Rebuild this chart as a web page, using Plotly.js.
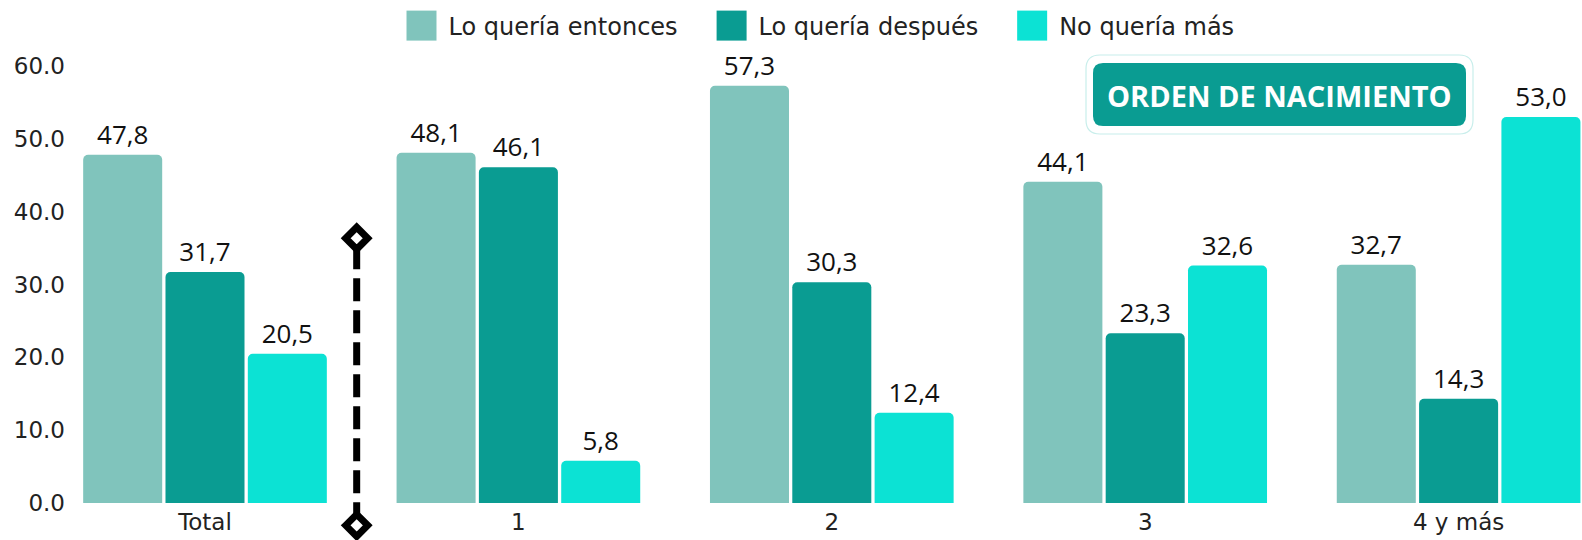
<!DOCTYPE html>
<html>
<head>
<meta charset="utf-8">
<script src="https://cdn.plot.ly/plotly-3.0.1.min.js"></script>
<style>
  html, body { margin: 0; padding: 0; background: #ffffff; }
  #chart { width: 1582px; height: 540px; }
</style>
</head>
<body>
<div id="chart"></div>
<script>
// ---- Data ----
const categories = ["Total", "1", "2", "3", "4 y más"];
const seriesNames = ["Lo quería entonces", "Lo quería después", "No quería más"];
const queriaEntonces = [47.8, 48.1, 57.3, 44.1, 32.7];
const queriaDespues = [31.7, 46.1, 30.3, 23.3, 14.3];
const noQueriaMas = [20.5, 5.8, 12.4, 32.6, 53.0];
const yTickVals = [0, 10, 20, 30, 40, 50, 60];
const badgeText = "ORDEN DE NACIMIENTO";

// ---- Style ----
const colors = ["#80C4BC", "#0A9C92", "#0CE2D4"];
const W = 1582, H = 540;
const M = { l: 66, r: 0, t: 66, b: 37 };
const plotW = W - M.l - M.r, plotH = H - M.t - M.b;
const catStep = 313.4;        // pixels per category
const yMax = 60;
const sepX = 0.484;           // separator position between "Total" and "1"
const sepTop = 36.35, sepBottom = -3.07;
const tickFont = 'DejaVu Sans';

const fmt = v => v.toFixed(1).replace('.', ',');
const valueSets = [queriaEntonces, queriaDespues, noQueriaMas];

const traces = valueSets.map((vals, i) => ({
  type: 'bar',
  name: seriesNames[i],
  x: [0, 1, 2, 3, 4],
  y: vals,
  text: vals.map(fmt),
  textposition: 'outside',
  cliponaxis: false,
  textfont: { family: 'Open Sans', size: 26, color: '#111111' },
  marker: { color: colors[i], cornerradius: 5 },
  hoverinfo: 'skip'
}));

// pixel -> paper helpers for decorations
const px = x => (x - M.l) / plotW;
const py = y => (H - M.b - y) / plotH;
function roundRect(x0, y0, x1, y1, r) {
  const p = (x, y) => px(x) + ',' + py(y);
  return 'M' + p(x0 + r, y0) + ' L' + p(x1 - r, y0) + ' Q' + p(x1, y0) + ' ' + p(x1, y0 + r) +
    ' L' + p(x1, y1 - r) + ' Q' + p(x1, y1) + ' ' + p(x1 - r, y1) +
    ' L' + p(x0 + r, y1) + ' Q' + p(x0, y1) + ' ' + p(x0, y1 - r) +
    ' L' + p(x0, y0 + r) + ' Q' + p(x0, y0) + ' ' + p(x0 + r, y0) + ' Z';
}
function diamond(xc, yVal, half) {
  const dx = half / catStep, dy = half / plotH, yc = yVal / yMax;
  return 'M' + (xc - dx) + ',' + yc + ' L' + xc + ',' + (yc + dy) +
    ' L' + (xc + dx) + ',' + yc + ' L' + xc + ',' + (yc - dy) + ' Z';
}

const x0 = -(205 - M.l) / catStep;

const layout = {
  width: W, height: H,
  margin: M,
  paper_bgcolor: '#ffffff',
  plot_bgcolor: '#ffffff',
  barmode: 'group',
  bargap: 0.212,
  bargroupgap: 0.04,
  font: { family: tickFont, color: '#222222' },
  showlegend: true,
  legend: {
    orientation: 'h',
    xref: 'paper', x: 0.5, xanchor: 'center',
    yref: 'container', y: 1 - 26 / H, yanchor: 'middle',
    font: { family: tickFont, size: 24, color: '#222222' },
    traceorder: 'normal'
  },
  xaxis: {
    range: [x0, x0 + plotW / catStep],
    tickmode: 'array',
    tickvals: [0, 1, 2, 3, 4],
    ticktext: categories,
    tickfont: { family: tickFont, size: 23, color: '#222222' },
    ticklabelstandoff: 3,
    showgrid: false, zeroline: false, showline: false, ticks: ''
  },
  yaxis: {
    range: [0, yMax],
    tickmode: 'array',
    tickvals: yTickVals,
    tickformat: '.1f',
    tickfont: { family: tickFont, size: 23, color: '#222222' },
    showgrid: false, zeroline: false, showline: false, ticks: ''
  },
  shapes: [
    {
      type: 'line', xref: 'x', yref: 'paper',
      x0: sepX, x1: sepX, y0: sepBottom / yMax, y1: sepTop / yMax,
      line: { color: '#000000', width: 7, dash: '23px,9px' },
      layer: 'below'
    },
    {
      type: 'path', xref: 'x', yref: 'paper',
      path: diamond(sepX, sepTop, 11),
      fillcolor: '#ffffff', line: { color: '#000000', width: 7 }, layer: 'above'
    },
    {
      type: 'path', xref: 'x', yref: 'paper',
      path: diamond(sepX, sepBottom, 11),
      fillcolor: '#ffffff', line: { color: '#000000', width: 7 }, layer: 'above'
    },
    {
      type: 'path', xref: 'paper', yref: 'paper',
      path: roundRect(1086, 55, 1473, 134, 14),
      fillcolor: '#ffffff', line: { color: '#C8EEEB', width: 1.2 }, layer: 'above'
    },
    {
      type: 'path', xref: 'paper', yref: 'paper',
      path: roundRect(1093, 63, 1466, 126, 10),
      fillcolor: '#0A9C92', line: { width: 0 }, layer: 'above'
    }
  ],
  annotations: [
    {
      xref: 'paper', yref: 'paper',
      x: px((1093 + 1466) / 2), y: py(95),
      xanchor: 'center', yanchor: 'middle',
      text: '<b>' + badgeText + '</b>',
      showarrow: false,
      font: { family: 'Open Sans', size: 29, color: '#ffffff' }
    }
  ]
};

function parseTranslate(t) {
  const m = /translate\(\s*([-\d.e]+)[ ,]+([-\d.e]+)\s*\)/.exec(t || '');
  return m ? [parseFloat(m[1]), parseFloat(m[2])] : [0, 0];
}

Plotly.newPlot('chart', traces, layout, { staticPlot: true, displayModeBar: false }).then(function (gd) {
  // enlarge legend swatches to match the reference's large squares
  gd.querySelectorAll('.legend .legendpoints path').forEach(function (p) {
    p.setAttribute('d', 'M15,15H-15V-15H15Z');
    p.setAttribute('transform', 'translate(13,0)');
  });
  // widen spacing between legend entries and keep the legend centred
  const extra = 36;
  const items = gd.querySelectorAll('.legend g.traces');
  items.forEach(function (g, i) {
    const t = parseTranslate(g.getAttribute('transform'));
    g.setAttribute('transform', 'translate(' + (t[0] + i * extra) + ',' + t[1] + ')');
  });
  gd.querySelectorAll('.legend .scrollbox, .legend').forEach(function (el) {
    el.removeAttribute('clip-path');
    el.style.clipPath = 'none';
  });
  const leg = gd.querySelector('g.legend');
  if (leg) {
    const t = parseTranslate(leg.getAttribute('transform'));
    leg.setAttribute('transform', 'translate(' + (t[0] - extra * (items.length - 1) / 2) + ',' + t[1] + ')');
  }
});
</script>
</body>
</html>
